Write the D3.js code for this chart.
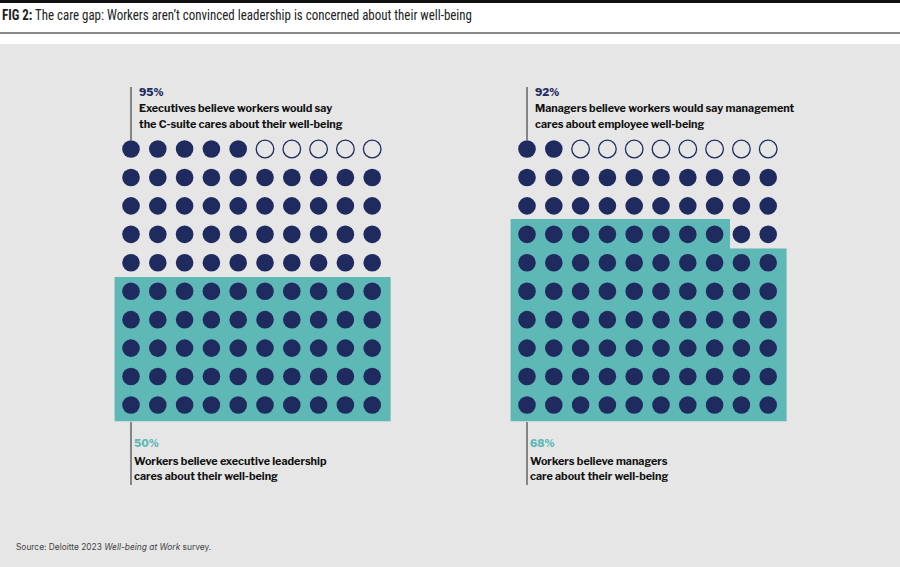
<!DOCTYPE html>
<html><head><meta charset="utf-8">
<script src="https://cdn.jsdelivr.net/npm/d3@7"></script>
<style>body{margin:0;background:#fff}svg{display:block}</style>
</head><body>
<svg id="chart" width="900" height="567"></svg>
<script>
// panel values
const panels = ['executives', 'managers']
const believedPct = [95, 92]   // navy filled dots
const workersPct = [50, 68]    // teal block
const topLabels = [
    ['Executives believe workers would say', 'the C-suite cares about their well-being'],
    ['Managers believe workers would say management', 'cares about employee well-being']
]
const bottomLabels = [
    ['Workers believe executive leadership', 'cares about their well-being'],
    ['Workers believe managers', 'care about their well-being']
]

const navy = '#1f2a5e', teal = '#5eb8b6'
const svg = d3.select('#chart')

svg.append('rect').attr('x', 0).attr('y', 44).attr('width', 900).attr('height', 523).attr('fill', '#e6e6e6')
svg.append('rect').attr('x', 0).attr('y', 0).attr('width', 900).attr('height', 3).attr('fill', '#111')
svg.append('rect').attr('x', 0).attr('y', 32).attr('width', 900).attr('height', 2).attr('fill', '#888')
const title = svg.append('text').attr('x', 2).attr('y', 20)
    .attr('font-family', 'Roboto Condensed, Liberation Sans Narrow, Roboto').attr('font-size', 14)
    .attr('fill', '#222').attr('textLength', 470).attr('lengthAdjust', 'spacingAndGlyphs')
title.append('tspan').attr('font-weight', 700).text('FIG 2:')
title.append('tspan').text(' The care gap: Workers aren\u2019t convinced leadership is concerned about their well-being')

const rows = d3.range(10)
const y = d3.scalePoint().domain(rows).range([149, 405])
const step = y.step()
const startX = [131, 527]

panels.forEach((p, pi) => {
    const x = d3.scalePoint().domain(rows).range([startX[pi], startX[pi] + 9 * 26.8])
    const colStep = x.step()
    const g = svg.append('g')

    // teal block: bottom `workersPct` cells, filled row by row from the bottom, left to right
    const full = Math.floor(workersPct[pi] / 10), part = workersPct[pi] % 10
    const x0 = x(0) - colStep / 2 - 3
    const fullTop = y(10 - full) - step / 2
    const bottom = y(9) + step / 2 + 2
    const right = x(9) + colStep / 2 + 5
    let pts = [[x0, bottom], [right, bottom], [right, fullTop]]
    if (part) {
        const pr = x(part - 1) + colStep / 2 + 2
        const pt = y(9 - full) - step / 2 - 1
        pts.push([pr, fullTop], [pr, pt], [x0, pt])
    } else pts.push([x0, fullTop])
    g.append('path').attr('d', d3.line()(pts) + 'Z').attr('fill', teal)

    // dots: last (100 - believed) of top row hollow
    const cells = d3.range(100).map(i => ({ r: Math.floor(i / 10), c: i % 10, i }))
    const hollow = 100 - believedPct[pi]
    const isHollow = d => d.r === 0 && d.c >= 10 - hollow
    g.selectAll('circle').data(cells).join('circle')
        .attr('cx', d => x(d.c)).attr('cy', d => y(d.r)).attr('r', 8.8)
        .attr('fill', d => isHollow(d) ? 'none' : navy)
        .attr('stroke', navy).attr('stroke-width', d => isHollow(d) ? 1.3 : 0)

    const lx = x(0)
    const font = 'Libre Franklin, Inter, Roboto'
    // top annotation
    g.append('line').attr('x1', lx).attr('x2', lx).attr('y1', 87).attr('y2', 140).attr('stroke', '#444').attr('stroke-width', 1.2)
    g.append('text').attr('x', lx + 8).attr('y', 96).attr('font-family', font).attr('font-weight', 800)
        .attr('font-size', 10.5).attr('fill', navy).text(believedPct[pi] + '%')
    topLabels[pi].forEach((t, k) => g.append('text').attr('x', lx + 8).attr('y', 112 + k * 16)
        .attr('font-family', font).attr('font-weight', 700).attr('font-size', 10.8).attr('fill', '#111').text(t))
    // bottom annotation
    g.append('line').attr('x1', lx).attr('x2', lx).attr('y1', 422).attr('y2', 485).attr('stroke', '#444').attr('stroke-width', 1.2)
    g.append('text').attr('x', lx + 3).attr('y', 447).attr('font-family', font).attr('font-weight', 800)
        .attr('font-size', 10.5).attr('fill', teal).text(workersPct[pi] + '%')
    bottomLabels[pi].forEach((t, k) => g.append('text').attr('x', lx + 3).attr('y', 465 + k * 15)
        .attr('font-family', font).attr('font-weight', 700).attr('font-size', 10.8).attr('fill', '#111').text(t))
})

const src = svg.append('text').attr('x', 16).attr('y', 550).attr('font-family', 'Inter, Roboto')
    .attr('font-size', 8.4).attr('fill', '#444')
src.append('tspan').text('Source: Deloitte 2023 ')
src.append('tspan').attr('font-style', 'italic').text('Well-being at Work')
src.append('tspan').text(' survey.')
</script>
</body></html>
